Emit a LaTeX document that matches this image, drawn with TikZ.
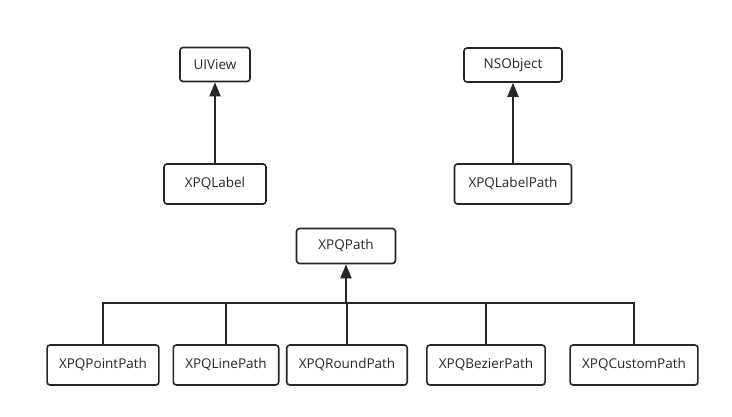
\documentclass[tikz,border=0pt]{standalone}
\usepackage{fontspec}
\setmainfont{Open Sans}
\usetikzlibrary{arrows.meta}
\definecolor{ink}{HTML}{262626}
\begin{document}
\begin{tikzpicture}[
  x=1pt, y=1pt,
  cls/.style={rectangle, rounded corners=3pt, draw=ink, line width=1.6pt, inner xsep=12pt, minimum height=40pt, text=ink, font=\fontsize{13.5}{16}\selectfont},
  top/.style={cls, minimum height=34pt},
  link/.style={draw=ink, line width=2pt},
  inherit/.style={link, -{Triangle[width=11pt,length=14pt]}}
]
\useasboundingbox (0,0) rectangle (732,-417);

\node[top, minimum width=70pt] (uiview) at (215,-64.5) {UIView};
\node[cls, minimum width=102pt, below of=uiview, node distance=119.5pt] (xpqlabel) {XPQLabel};
\node[top, minimum width=98pt] (nsobject) at (513,-65) {NSObject};
\node[cls, minimum width=117pt, below of=nsobject, node distance=119pt] (labelpath) {XPQLabelPath};

\node[cls, minimum height=35pt, minimum width=99pt] (xpqpath) at (346,-246) {XPQPath};
\coordinate (bus) at (346,-303);

\node[cls] (pointpath) at (103,-365) {XPQPointPath};
\node[cls, right of=pointpath, node distance=123pt] (linepath) {XPQLinePath};
\node[cls, right of=linepath, node distance=121pt] (roundpath) {XPQRoundPath};
\node[cls, right of=roundpath, node distance=139pt] (bezierpath) {XPQBezierPath};
\node[cls, right of=bezierpath, node distance=148pt] (custompath) {XPQCustomPath};

\draw[inherit] (xpqlabel) -- (uiview);
\draw[inherit] (labelpath) -- (nsobject);

% subclasses of XPQPath share one bus
\draw[inherit] (bus) -- (xpqpath);
\foreach \sub in {pointpath, linepath, roundpath, bezierpath, custompath}
  \draw[link] (\sub.north) |- (bus);
\end{tikzpicture}
\end{document}
